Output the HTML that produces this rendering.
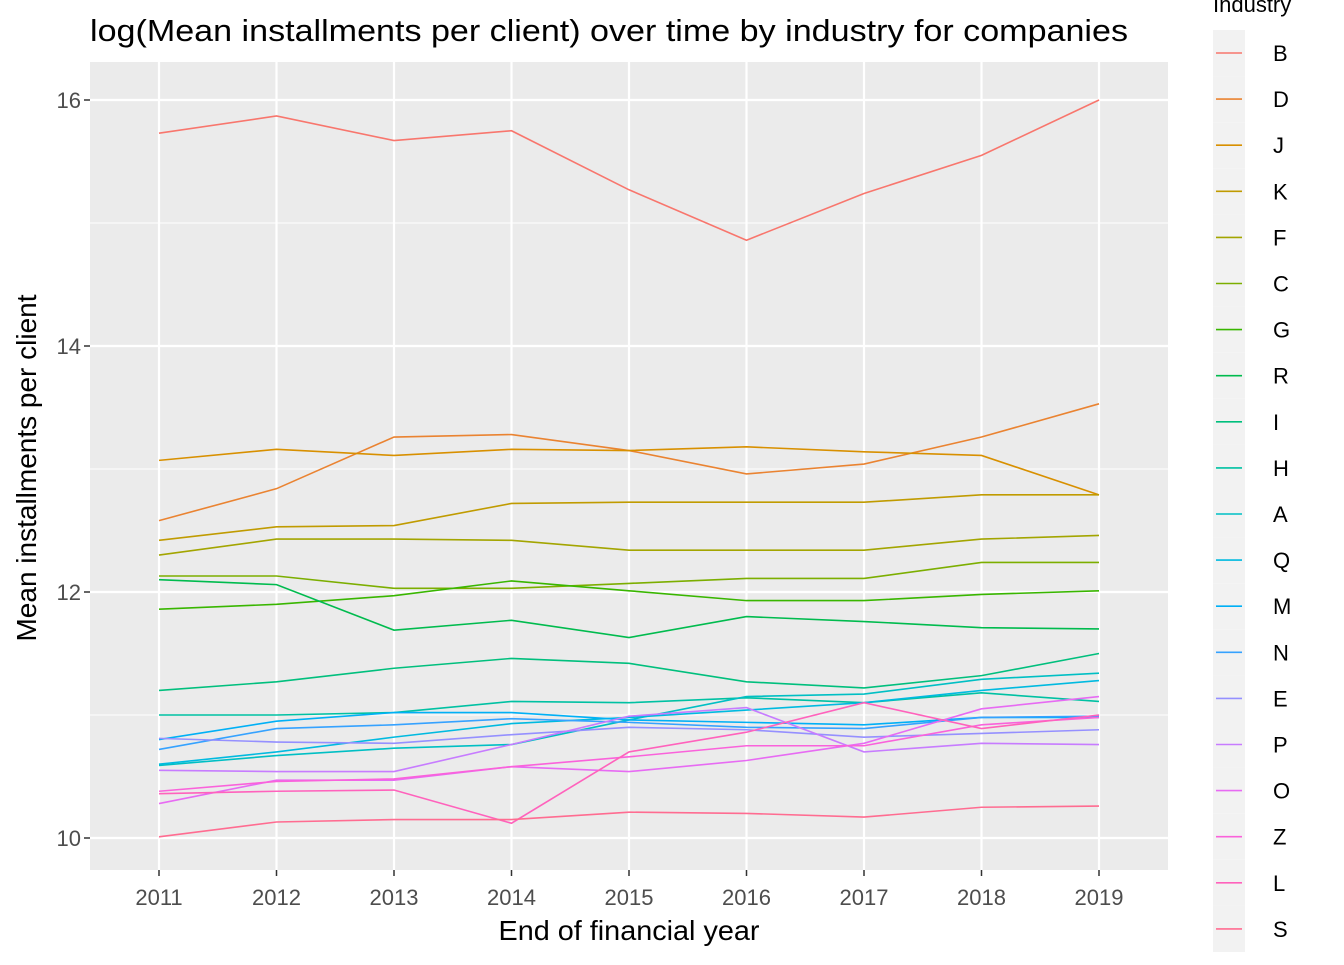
<!DOCTYPE html>
<html><head><meta charset="utf-8"><style>
html,body{margin:0;padding:0;background:#fff;}
svg text{font-family:"Liberation Sans",Arial,sans-serif;}
</style></head><body>
<svg id="chart" width="1344" height="960" xmlns="http://www.w3.org/2000/svg">
<rect width="1344" height="960" fill="#fff"/>
<text x="90" y="41" font-size="31" textLength="1038" lengthAdjust="spacingAndGlyphs" fill="#000">log(Mean installments per client) over time by industry for companies</text>
<rect x="90" y="62" width="1078" height="808" fill="#EBEBEB"/>
<g id="grid"></g>
<g id="series"></g>
<g id="axes"></g>
<text x="629" y="940" font-size="28" text-anchor="middle" textLength="261" lengthAdjust="spacingAndGlyphs" fill="#000">End of financial year</text>
<text transform="translate(36,468) rotate(-90)" font-size="28" text-anchor="middle" fill="#000">Mean installments per client</text>
<text x="1213" y="12" font-size="22" fill="#000">Industry</text>
<g id="legend"></g>
</svg>
<script>
const years=[2011,2012,2013,2014,2015,2016,2017,2018,2019];
const industries=["B","D","J","K","F","C","G","R","I","H","A","Q","M","N","E","P","O","Z","L","S"];
const colors=["#F8766D","#EA8331","#D89000","#C09B00","#A3A500","#7CAE00","#39B600","#00BB4E","#00BF7D","#00C1A3","#00BFC4","#00BAE0","#00B0F6","#35A2FF","#9590FF","#C77CFF","#E76BF3","#FA62DB","#FF62BC","#FF6C91"];
const vB=[15.73,15.87,15.67,15.75,15.27,14.86,15.24,15.55,16.00];
const vD=[12.58,12.84,13.26,13.28,13.15,12.96,13.04,13.26,13.53];
const vJ=[13.07,13.16,13.11,13.16,13.15,13.18,13.14,13.11,12.79];
const vK=[12.42,12.53,12.54,12.72,12.73,12.73,12.73,12.79,12.79];
const vF=[12.30,12.43,12.43,12.42,12.34,12.34,12.34,12.43,12.46];
const vC=[12.13,12.13,12.03,12.03,12.07,12.11,12.11,12.24,12.24];
const vG=[11.86,11.90,11.97,12.09,12.01,11.93,11.93,11.98,12.01];
const vR=[12.10,12.06,11.69,11.77,11.63,11.80,11.76,11.71,11.70];
const vI=[11.20,11.27,11.38,11.46,11.42,11.27,11.22,11.32,11.50];
const vH=[11.00,11.00,11.02,11.11,11.10,11.14,11.10,11.18,11.11];
const vA=[10.59,10.67,10.73,10.76,10.96,11.15,11.17,11.29,11.34];
const vQ=[10.60,10.70,10.82,10.93,10.98,11.04,11.10,11.20,11.28];
const vM=[10.80,10.95,11.02,11.02,10.96,10.94,10.92,10.98,10.98];
const vN=[10.72,10.89,10.92,10.97,10.94,10.90,10.89,10.98,10.99];
const vE=[10.81,10.78,10.77,10.84,10.90,10.88,10.82,10.85,10.88];
const vP=[10.55,10.54,10.54,10.76,10.99,11.06,10.70,10.77,10.76];
const vO=[10.28,10.47,10.47,10.58,10.54,10.63,10.77,11.05,11.15];
const vZ=[10.38,10.46,10.48,10.58,10.66,10.75,10.75,10.92,10.98];
const vL=[10.36,10.38,10.39,10.12,10.70,10.86,11.10,10.89,11.00];
const vS=[10.01,10.13,10.15,10.15,10.21,10.20,10.17,10.25,10.26];
const seriesValues=[vB,vD,vJ,vK,vF,vC,vG,vR,vI,vH,vA,vQ,vM,vN,vE,vP,vO,vZ,vL,vS];
const yTicks=[10,12,14,16];
const yMinor=[11,13,15];

const NS="http://www.w3.org/2000/svg";
const xS=y=>159+(y-2011)*117.5;
const yS=v=>838-(v-10)*123;
function mk(tag,attrs,parent){const e=document.createElementNS(NS,tag);for(const k in attrs)e.setAttribute(k,attrs[k]);parent.appendChild(e);return e;}
const grid=document.getElementById('grid'),axes=document.getElementById('axes'),ser=document.getElementById('series'),leg=document.getElementById('legend');
yMinor.forEach(v=>{const l=mk('line',{x1:90,x2:1168,y1:yS(v),y2:yS(v),stroke:'#fff','stroke-width':1},grid);

});
yTicks.forEach(v=>{const l=mk('line',{x1:90,x2:1168,y1:yS(v),y2:yS(v),stroke:'#fff','stroke-width':2.2},grid);


const t=mk('text',{x:81,y:yS(v)+8,'font-size':22,'text-anchor':'end',fill:'#4D4D4D'},axes);t.textContent=v;


mk('line',{x1:84,x2:90,y1:yS(v),y2:yS(v),stroke:'#333','stroke-width':1.5},axes);});
years.forEach(y=>{const l=mk('line',{x1:xS(y),x2:xS(y),y1:62,y2:870,stroke:'#fff','stroke-width':2.2},grid);


mk('line',{x1:xS(y),x2:xS(y),y1:870,y2:876,stroke:'#333','stroke-width':1.5},axes);
const t=mk('text',{x:xS(y),y:905,'font-size':22,'text-anchor':'middle',fill:'#4D4D4D'},axes);t.textContent=y;

});
seriesValues.forEach((vals,i)=>{const p=mk('polyline',{points:vals.map((v,j)=>xS(years[j])+','+yS(v)).join(' '),fill:'none',stroke:colors[i],'stroke-width':1.6},ser);


const cy=53+i*46.1;
const bg=mk('rect',{x:1213,y:cy-23,width:32,height:46.1,fill:'#F2F2F2'},leg);


mk('line',{x1:1216,x2:1242,y1:cy,y2:cy,stroke:colors[i],'stroke-width':1.6},leg);
const t=mk('text',{x:1273,y:cy+8,'font-size':22,fill:'#000'},leg);t.textContent=industries[i];

});
</script>
</body></html>
